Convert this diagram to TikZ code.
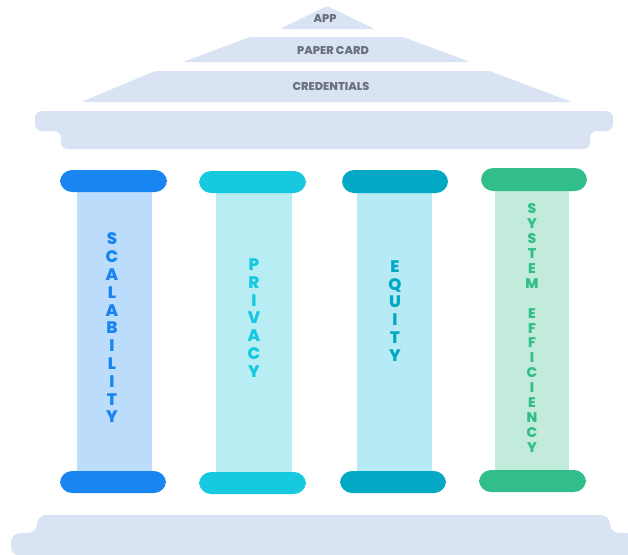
\documentclass[tikz,border=0pt]{standalone}
\usepackage{fontspec}
\setmainfont{Poppins}[BoldFont={Poppins ExtraBold}]
\usepackage{xcolor}
\usepackage{tikz}
\usetikzlibrary{positioning}

\definecolor{roofgray}{RGB}{218,227,243}
\definecolor{roofink}{RGB}{104,112,130}
\definecolor{scalblue}{RGB}{24,133,240}
\definecolor{scalshaft}{RGB}{187,220,250}
\definecolor{privcyan}{RGB}{22,201,222}
\definecolor{privshaft}{RGB}{184,237,244}
\definecolor{equteal}{RGB}{3,168,197}
\definecolor{equshaft}{RGB}{182,234,244}
\definecolor{effgreen}{RGB}{49,190,139}
\definecolor{effshaft}{RGB}{195,235,219}

\tikzstyle{roof} = [fill=roofgray, rounded corners=2]
\tikzstyle{rooflabel} = [text=roofink, font=\bfseries\fontsize{8.5}{9}\selectfont, inner sep=0pt]
\tikzstyle{pillarcap} = [rounded corners=9]
\tikzstyle{pillarlabel} = [font=\bfseries\fontsize{12.5}{13.35}\selectfont, align=center, inner sep=0pt]

\begin{document}
\begin{tikzpicture}[x=0.75pt, y=-0.75pt]
        \useasboundingbox (0,0) rectangle (628,554);

        % Roof
        \fill [roof] (280,29) -- (327,6) -- (375,29) -- cycle;
        \fill [roof] (183,62) -- (250,37) -- (403,37) -- (470,62) -- cycle;
        \fill [roof] (81,102) -- (155,71) -- (490,71) -- (572,102) -- cycle;
        \node (app) [rooflabel] at (325,19) {APP};
        \node (card) [rooflabel] at (333,50) {PAPER CARD};
        \node (cred) [rooflabel] at (331,86) {CREDENTIALS};

        % Entablature
        \fill [roofgray, rounded corners=5] (35,111) -- (613,111) -- (613,131) -- (590,131)
            -- (590,149) -- (61,149) -- (61,131) -- (35,131) -- cycle;

        % Shafts
        \fill [scalshaft] (77,192) rectangle (152,471);
        \fill [privshaft] (216,193) rectangle (292,472);
        \fill [equshaft] (357,193) rectangle (432,471);
        \fill [effshaft] (495,191) rectangle (569,470);

        % Capitals and plinths
        \fill [pillarcap, scalblue] (60,170) rectangle (167,192);
        \fill [pillarcap, scalblue] (60,471) rectangle (166,493);
        \fill [pillarcap, privcyan] (199,171) rectangle (306,193);
        \fill [pillarcap, privcyan] (199,472) rectangle (306,494);
        \fill [pillarcap, equteal] (342,170) rectangle (448,193);
        \fill [pillarcap, equteal] (340,471) rectangle (446,493);
        \fill [pillarcap, effgreen] (481,168) rectangle (587,191);
        \fill [pillarcap, effgreen] (479,470) rectangle (586,492);

        % Pillar labels
        \node (scal) [pillarlabel, text=scalblue] at (112,328) {S\\C\\A\\L\\A\\B\\I\\L\\I\\T\\Y};
        \node (priv) [pillarlabel, text=privcyan] at (254,318) {P\\R\\I\\V\\A\\C\\Y};
        \node (equ) [pillarlabel, text=equteal] at (395,311) {E\\Q\\U\\I\\T\\Y};
        \node (eff) [pillarlabel, text=effgreen, font=\bfseries\fontsize{10.5}{11.2}\selectfont] at (532,328)
            {S\\Y\\S\\T\\E\\M\\~\\E\\F\\F\\I\\C\\I\\E\\N\\C\\Y};

        % Base
        \fill [roofgray, rounded corners=7] (11,556) -- (11,533) -- (37,533) -- (37,515)
            -- (610,515) -- (610,533) -- (636,533) -- (636,556) -- cycle;
    \end{tikzpicture}
\end{document}
